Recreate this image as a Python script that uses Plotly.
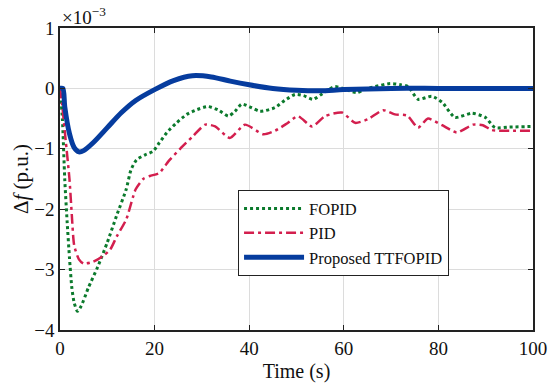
import plotly.graph_objects as go

# Time (s) and frequency deviation (x1e-3 p.u.)
t_fopid = [0, 0.5, 1, 1.5, 2, 2.5, 3, 3.7, 4.5, 6, 8, 10, 12, 14, 15, 16.2, 18, 19.7, 21, 22.6, 24.5, 26.8, 29, 31.3, 33.5, 35.6, 37, 38.4, 40.5, 42.3, 45.4, 47.5, 49.7, 51.5, 53.5, 56, 58.1, 60.5, 62.8, 64.5, 66.6, 69.8, 72, 73.6, 75.7, 78.6, 80.8, 83.5, 87.1, 89.9, 92, 95, 100]
f_fopid = [0, -0.5, -1.5, -2.2, -2.8, -3.3, -3.55, -3.69, -3.6, -3.3, -2.95, -2.55, -2.1, -1.67, -1.35, -1.18, -1.1, -1.04, -0.9, -0.73, -0.58, -0.43, -0.35, -0.30, -0.36, -0.46, -0.38, -0.26, -0.32, -0.38, -0.32, -0.2, -0.1, -0.12, -0.18, -0.06, 0.03, -0.02, -0.07, -0.01, 0.03, 0.08, 0.06, 0.03, -0.18, -0.13, -0.23, -0.48, -0.41, -0.48, -0.65, -0.64, -0.63]

t_pid = [0, 0.5, 1, 2, 2.5, 3, 4, 5, 7, 9, 10.6, 12, 14, 16, 17.6, 19, 21, 23, 25.4, 28, 30.7, 32.8, 35.9, 39.1, 43, 45.5, 48, 50.3, 53.3, 56, 59.6, 62.4, 65.1, 68.3, 70.8, 73.4, 75.7, 77.8, 80.8, 83.9, 87.3, 89.4, 91.3, 95, 100]
f_pid = [0, -0.3, -0.7, -1.5, -2.1, -2.6, -2.83, -2.9, -2.87, -2.78, -2.67, -2.45, -2.17, -1.67, -1.5, -1.45, -1.4, -1.2, -1.0, -0.8, -0.6, -0.63, -0.82, -0.6, -0.76, -0.7, -0.58, -0.46, -0.63, -0.46, -0.40, -0.57, -0.51, -0.36, -0.43, -0.45, -0.65, -0.5, -0.61, -0.73, -0.6, -0.61, -0.69, -0.7, -0.7]

t_prop = [0, 0.6, 1, 2, 3, 4, 5, 7, 10, 13, 16, 20, 24, 28, 32, 36, 40, 45, 50, 55, 60, 70, 80, 90, 100]
f_prop = [0, 0.0, -0.3, -0.75, -0.98, -1.05, -1.03, -0.9, -0.65, -0.4, -0.2, -0.02, 0.13, 0.21, 0.19, 0.12, 0.06, 0.0, -0.03, -0.04, -0.02, 0, 0, 0, 0]

x_ticks = [0, 20, 40, 60, 80, 100]
y_ticks = [-4, -3, -2, -1, 0, 1]
y_ticktext = ["\u22124", "\u22123", "\u22122", "\u22121", "0", "1"]

font = "Liberation Serif"

fig = go.Figure()
fig.add_trace(go.Scatter(x=t_fopid, y=f_fopid, mode="lines", name="FOPID",
                         line=dict(color="#0b7a2c", width=3, dash="dot", shape="spline", smoothing=0.6)))
fig.add_trace(go.Scatter(x=t_pid, y=f_pid, mode="lines", name="PID",
                         line=dict(color="#d31f4e", width=2.5, dash="10px,4px,3px,4px", shape="spline", smoothing=0.6)))
fig.add_trace(go.Scatter(x=t_prop, y=f_prop, mode="lines", name="Proposed TTFOPID",
                         line=dict(color="#063c9e", width=5, shape="spline", smoothing=0.8)))

axis_common = dict(showline=True, linecolor="#222", linewidth=1.5, mirror="ticks",
                   ticks="inside", ticklen=5, tickcolor="#222", showgrid=True,
                   gridcolor="#dcdcdc", gridwidth=1, zeroline=False,
                   tickfont=dict(family=font, size=19, color="#111"))

fig.update_layout(
    width=550, height=391,
    margin=dict(l=60, r=17, t=28, b=61, autoexpand=False),
    paper_bgcolor="white", plot_bgcolor="white",
    font=dict(family=font, color="#111"),
    xaxis=dict(range=[0, 100], tickvals=x_ticks,
               title=dict(text="Time (s)", font=dict(family=font, size=20), standoff=6),
               **axis_common),
    yaxis=dict(range=[-4, 1], tickvals=y_ticks, ticktext=y_ticktext,
               title=dict(text="\u0394<i>f</i> (p.u.)", font=dict(family=font, size=21), standoff=0),
               **axis_common),
    legend=dict(x=0.376, y=0.4636, xanchor="left", yanchor="top",
                bgcolor="white", bordercolor="#222", borderwidth=1.2,
                font=dict(family=font, size=16.5, color="#111"),
                tracegroupgap=0, itemwidth=60),
    showlegend=True,
    annotations=[dict(x=0, y=1, xref="paper", yref="paper", xanchor="left", yanchor="bottom",
                      text="\u00d710<sup>\u22123</sup>", showarrow=False,
                      font=dict(family=font, size=19, color="#111"), yshift=-2)],
)

fig.write_html("out.html", config={"displayModeBar": False},
               post_script="document.body.style.margin='0';")
